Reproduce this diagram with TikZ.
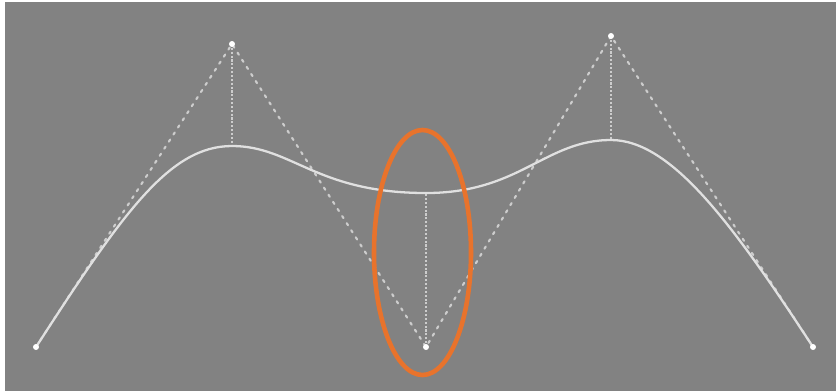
\documentclass[tikz,border=0pt]{standalone}
\usetikzlibrary{shapes.geometric}
\definecolor{viewgray}{HTML}{828282}
\definecolor{hiorange}{HTML}{E8732C}
\begin{document}
\begin{tikzpicture}[x=0.1mm, y=-0.1mm,
    cv/.style={circle, fill=white, inner sep=0pt, minimum size=0.6mm},
    hull/.style={white!60!viewgray, line width=0.6pt, dash pattern=on 0.7pt off 1.7pt, line cap=round},
    tie/.style={white!60!viewgray, line width=0.35pt, dash pattern=on 0.6pt off 0.5pt},
    curve/.style={white!75!viewgray, line width=0.65pt},
    ring/.style={draw=hiorange, line width=1.3pt, ellipse, inner sep=0pt}]
  \fill[white] (0,0) rectangle (836,391);
  \fill[viewgray] (5,2) rectangle (836,391);
  \useasboundingbox (0,0) rectangle (836,391);
  % control vertices
  \foreach \i/\x/\y in {0/36/347,1/232/44,2/426/347,3/611/36,4/813/347}{
    \coordinate (p\i) at (\x,\y);
  }
  % where the curve meets the ties
  \coordinate (e1) at (232,146);
  \coordinate (e2) at (426,193);
  \coordinate (e3) at (611,140);
  % hull
  \draw[hull] (p0) -- (p1) -- (p2) -- (p3) -- (p4);
  \foreach \i in {1,2,3}
    \draw[tie] (p\i) -- (e\i);
  % curve
  \draw[curve] (p0) .. controls (124,211) and (170,146) .. (e1)
    .. controls (292,146) and (316,193) .. (e2)
    .. controls (520,193) and (545,140) .. (e3)
    .. controls (671,140) and (732,223) .. (p4);
  \foreach \i in {0,...,4}
    \node[cv] (v\i) at (p\i) {};
  % highlight
  \node[ring, minimum width=9.7mm, minimum height=24.5mm] (hilite) at (422.5,252.5) {};
\end{tikzpicture}
\end{document}
